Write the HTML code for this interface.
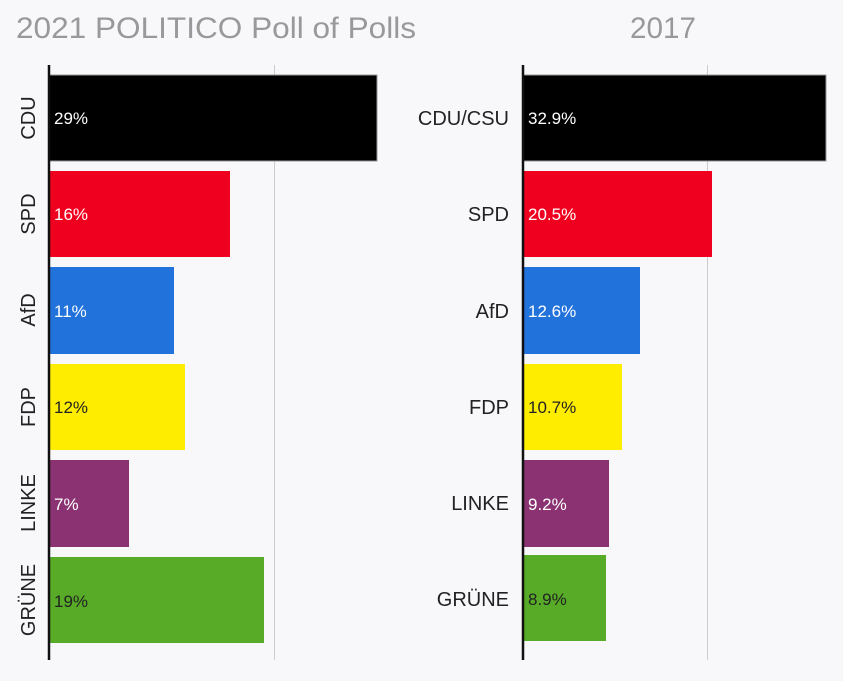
<!DOCTYPE html>
<html><head><meta charset="utf-8"><style>body{margin:0;background:#f8f8fb}svg{display:block}</style></head><body>
<svg width="843" height="681" xmlns="http://www.w3.org/2000/svg" font-family="Liberation Sans, sans-serif">
<rect width="843" height="681" fill="#f8f8fb"/>
<text x="16" y="38" font-size="30" fill="#999" textLength="400" lengthAdjust="spacingAndGlyphs">2021 POLITICO Poll of Polls</text>
<text x="630" y="38" font-size="30" fill="#999" textLength="66" lengthAdjust="spacingAndGlyphs">2017</text>
<line x1="274.5" y1="65" x2="274.5" y2="660" stroke="#ccc" stroke-width="1"/>
<line x1="707.5" y1="65" x2="707.5" y2="660" stroke="#ccc" stroke-width="1"/>
<g stroke="#999" stroke-width="1">
<rect x="49" y="75" width="328" height="86" fill="#000"/>
<rect x="49" y="171" width="181" height="86" fill="#f0001f" stroke="none"/>
<rect x="49" y="267" width="125" height="87" fill="#2272db" stroke="none"/>
<rect x="49" y="364" width="136" height="86" fill="#ffed00" stroke="none"/>
<rect x="49" y="460" width="80" height="87" fill="#8b3372" stroke="none"/>
<rect x="49" y="557" width="215" height="86" fill="#57ab27" stroke="none"/>
<rect x="523" y="75" width="303" height="86" fill="#000"/>
<rect x="523" y="171" width="189" height="86" fill="#f0001f" stroke="none"/>
<rect x="523" y="267" width="117" height="87" fill="#2272db" stroke="none"/>
<rect x="523" y="364" width="99" height="86" fill="#ffed00" stroke="none"/>
<rect x="523" y="460" width="86" height="87" fill="#8b3372" stroke="none"/>
<rect x="523" y="555" width="83" height="86" fill="#57ab27" stroke="none"/>
</g>
<line x1="49" y1="65" x2="49" y2="660" stroke="#111" stroke-width="2.5"/>
<line x1="523" y1="65" x2="523" y2="660" stroke="#111" stroke-width="2.5"/>
<g font-size="17">
<text x="54" y="124" fill="#fff">29%</text>
<text x="54" y="220" fill="#fff">16%</text>
<text x="54" y="317" fill="#fff">11%</text>
<text x="54" y="413" fill="#222">12%</text>
<text x="54" y="510" fill="#fff">7%</text>
<text x="54" y="607" fill="#222">19%</text>
<text x="528" y="124" fill="#fff">32.9%</text>
<text x="528" y="220" fill="#fff">20.5%</text>
<text x="528" y="317" fill="#fff">12.6%</text>
<text x="528" y="413" fill="#222">10.7%</text>
<text x="528" y="510" fill="#fff">9.2%</text>
<text x="528" y="605" fill="#222">8.9%</text>
</g>
<g font-size="20" fill="#222" text-anchor="end">
<text x="509" y="125">CDU/CSU</text>
<text x="509" y="221">SPD</text>
<text x="509" y="318">AfD</text>
<text x="509" y="414">FDP</text>
<text x="509" y="510">LINKE</text>
<text x="509" y="606">GRÜNE</text>
</g>
<g font-size="20" fill="#222" text-anchor="middle">
<text transform="translate(35,118) rotate(-90)">CDU</text>
<text transform="translate(35,214) rotate(-90)">SPD</text>
<text transform="translate(35,310) rotate(-90)">AfD</text>
<text transform="translate(35,407) rotate(-90)">FDP</text>
<text transform="translate(35,503) rotate(-90)">LINKE</text>
<text transform="translate(35,600) rotate(-90)">GRÜNE</text>
</g>
</svg>
</body></html>
